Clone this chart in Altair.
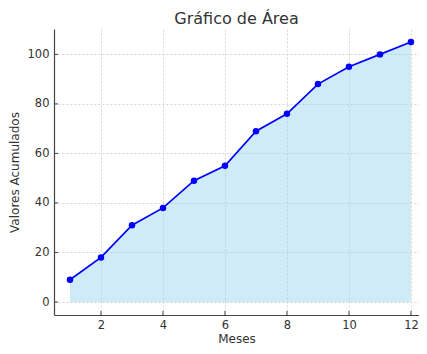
import altair as alt
import pandas as pd

meses = [1, 2, 3, 4, 5, 6, 7, 8, 9, 10, 11, 12]
valores = [9, 18, 31, 38, 49, 55, 69, 76, 88, 95, 100, 105]
x_ticks = [2, 4, 6, 8, 10, 12]
y_ticks = [0, 20, 40, 60, 80, 100]

W, H = 365, 286

df = pd.DataFrame({"Meses": meses, "Valores": valores})
xt = pd.DataFrame({"t": x_ticks})
yt = pd.DataFrame({"t": y_ticks})

xscale = alt.Scale(domain=[0.484, 12.26], nice=False, zero=False)
yscale = alt.Scale(domain=[-5.25, 110.25], nice=False, zero=False)

x = alt.X("Meses:Q", title="Meses", scale=xscale, axis=alt.Axis(values=x_ticks))
y = alt.Y("Valores:Q", title="Valores Acumulados", scale=yscale, axis=alt.Axis(values=y_ticks))

base = alt.Chart(df)
area = base.mark_area(color="#87ceeb", opacity=0.4).encode(x=x, y=y)
line = base.mark_line(color="#0000ff", strokeWidth=1.7).encode(x=x, y=y)
pts = base.mark_point(color="#0000ff", filled=True, opacity=1, size=42).encode(x=x, y=y)

xtick = alt.Chart(xt).mark_rule(color="#444444", strokeWidth=1).encode(
    x=alt.X("t:Q", scale=xscale), y=alt.value(H), y2=alt.value(H - 4))
ytick = alt.Chart(yt).mark_rule(color="#444444", strokeWidth=1).encode(
    y=alt.Y("t:Q", scale=yscale), x=alt.value(0), x2=alt.value(4))

chart = (area + line + pts + xtick + ytick).properties(
    width=W, height=H,
    autosize=alt.AutoSizeParams(type="none"),
    padding={"left": 46, "top": 21, "right": 0, "bottom": 31},
    title=alt.TitleParams("Gráfico de Área", fontSize=16, fontWeight="normal",
                          color="#333333", font="DejaVu Sans", offset=2),
).configure_view(stroke=None).configure_axis(
    labelFont="DejaVu Sans", titleFont="DejaVu Sans",
    labelFontSize=11.5, titleFontSize=12, titleFontWeight="normal",
    labelColor="#333333", titleColor="#333333",
    domainColor="#444444", domainWidth=1.2,
    ticks=False,
    gridColor="#cccccc", gridDash=[2, 2], gridWidth=0.8,
).configure_axisY(titlePadding=6, labelPadding=5).configure_axisX(titlePadding=3, labelPadding=4)

chart.save("out.html", embed_options={"renderer": "svg", "actions": False})
